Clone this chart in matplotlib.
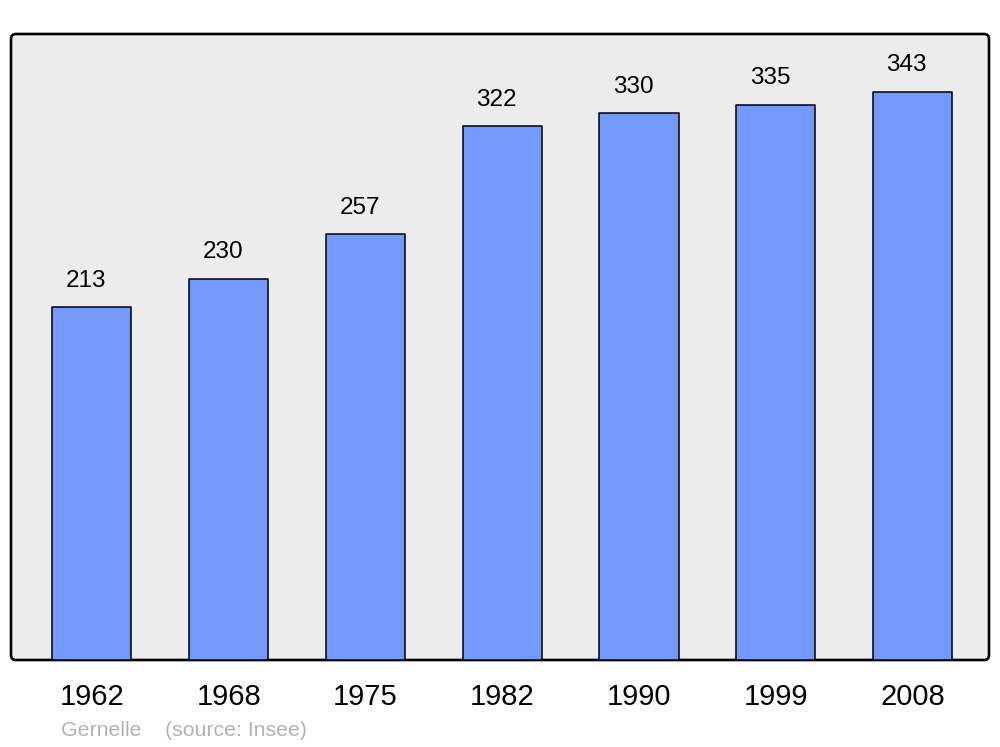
import matplotlib
matplotlib.use("Agg")
import matplotlib.pyplot as plt
from matplotlib.patches import FancyBboxPatch

years = ["1962", "1968", "1975", "1982", "1990", "1999", "2008"]
population = [213, 230, 257, 322, 330, 335, 343]

plt.rcParams['font.family'] = ['Liberation Sans', 'DejaVu Sans']

fig = plt.figure(figsize=(10, 7.47), dpi=100)
ax = fig.add_axes([11/1000, 1-660/747, 978/1000, 626/747])
ax.set_facecolor('none')
for s in ax.spines.values():
    s.set_visible(False)

# background frame
frame = FancyBboxPatch((0, 0), 1, 1, boxstyle="round,pad=0,rounding_size=0.005",
                       mutation_aspect=978/626, transform=ax.transAxes,
                       facecolor='#ececec', edgecolor='black', linewidth=1.9,
                       clip_on=False, zorder=0)
ax.add_patch(frame)

x = list(range(len(years)))
bars = ax.bar(x, population, width=0.578, color='#7399ff', edgecolor='black',
              linewidth=1.1, zorder=2)
for b in bars:
    b.set_joinstyle('round')

for xi, v in zip(x, population):
    ax.annotate(str(v), (xi, v), xytext=(-4.3, 19.0), textcoords='offset points',
                ha='center', va='center', fontsize=17.5, zorder=3)

ax.set_xlim(-0.592, 6.559)
ax.set_ylim(0, 377.7)
ax.set_yticks([])
ax.set_xticks(x)
ax.set_xticklabels(years, fontsize=21)
ax.tick_params(axis='x', length=0, pad=16.5)
for lbl in ax.get_xticklabels():
    lbl.set_x(lbl.get_position()[0])

fig.text(61/1000, 1-730/747, "Gernelle    (source: Insee)", color='#b3b3b3',
         fontsize=15.3, ha='left', va='center')

fig.savefig("out.png", dpi=100)
